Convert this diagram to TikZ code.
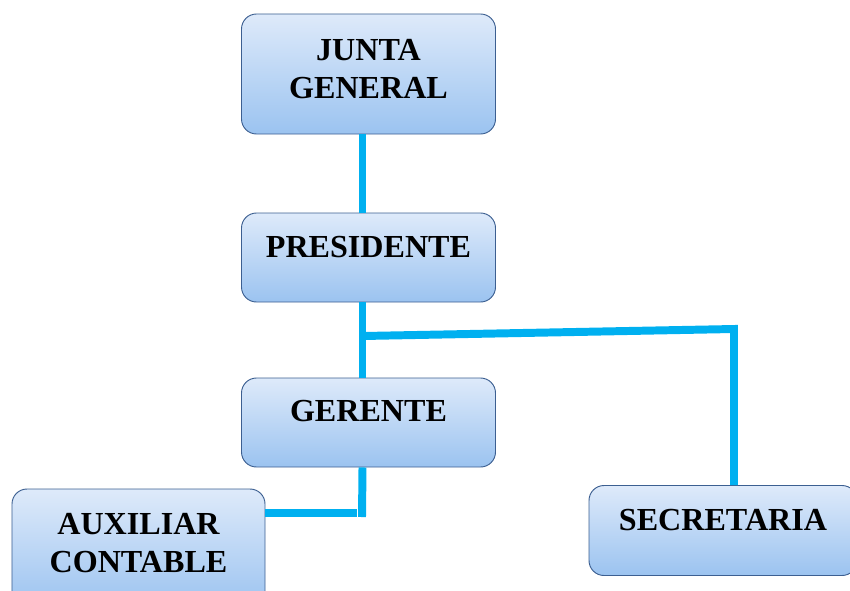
\documentclass[tikz,border=0pt]{standalone}
\usepackage{fontspec}
\setmainfont{Liberation Serif}
\usepackage{tikz}
\definecolor{CajaArriba}{RGB}{222,234,250}
\definecolor{CajaAbajo}{RGB}{155,195,240}
\definecolor{CajaBorde}{RGB}{60,95,145}
\definecolor{Enlace}{RGB}{0,176,240}

\begin{document}
\begin{tikzpicture}[x=0.03cm,y=-0.03cm,
    caja/.style={draw=CajaBorde,line width=0.8pt,rounded corners=0.45cm,
        top color=CajaArriba,bottom color=CajaAbajo,minimum width=7.62cm},
    rotulo/.style={align=center,inner sep=0pt,
        font=\fontsize{27.4}{32.8}\selectfont\bfseries},
    enlace/.style={Enlace,line width=6.8pt}]
            \useasboundingbox (0,0) rectangle (850,590);
            % cajas
            \node[caja,minimum height=3.6cm] (junta) at (368.5,74) {};
            \node[caja,minimum height=2.67cm] (pres) at (368.5,257.5) {};
            \node[caja,minimum height=2.67cm] (ger) at (368.5,422.5) {};
            \node[caja,minimum height=3.6cm,minimum width=7.59cm] (aux) at (138.5,549) {};
            \node[caja,minimum height=2.7cm,minimum width=8.04cm] (sec) at (723,530.5) {};
            % textos
            \node[rotulo] (juntaT) at ([yshift=0.15cm]junta.center) {JUNTA\\GENERAL};
            \node[rotulo] (presT) at ([yshift=0.32cm]pres.center) {PRESIDENTE};
            \node[rotulo] (gerT) at ([yshift=0.34cm]ger.center) {GERENTE};
            \node[rotulo] (auxT) at ([yshift=0.18cm]aux.center) {AUXILIAR\\CONTABLE};
            \node[rotulo] (secT) at ([yshift=0.31cm]sec.center) {SECRETARIA};
            % enlaces
            \coordinate (rama) at (363,336);
            \coordinate (codo) at (734,329);
            \coordinate (codoAux) at (362,513);
            \draw[enlace] ([xshift=-0.18cm]junta.south) -- ([xshift=-0.18cm]pres.north);
            \draw[enlace] ([xshift=-0.18cm]pres.south) -- ([xshift=-0.18cm]ger.north);
            \draw[enlace] (rama) -- (codo) -- (sec.north -| codo);
            \draw[enlace] ([xshift=-0.18cm]ger.south) -- ([yshift=-0.12cm]codoAux);
            \draw[enlace] (aux.east |- codoAux) -- ([xshift=-0.15cm]codoAux);
        \end{tikzpicture}
\end{document}
